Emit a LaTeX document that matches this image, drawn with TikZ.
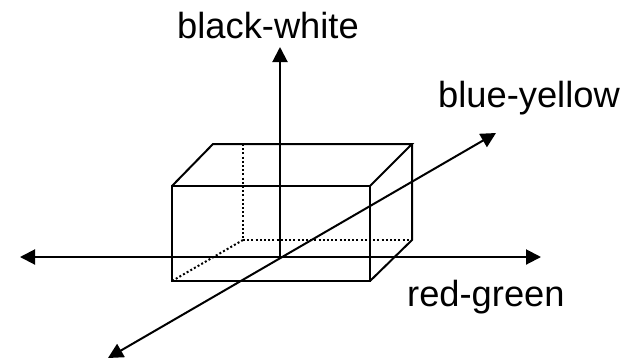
\documentclass[tikz,border=0pt]{standalone}
\usepackage{fontspec}
\setmainfont{Liberation Sans}
\usetikzlibrary{arrows.meta}
\begin{document}
\begin{tikzpicture}[x=1pt,y=-1pt,
  axis/.style={line width=2pt,{Triangle[length=15pt,width=15pt]}-{Triangle[length=15pt,width=15pt]}},
  uparrow/.style={line width=2pt,-{Triangle[length=15pt,width=15pt]}},
  edge/.style={line width=2pt,line join=miter},
  hidden/.style={line width=2pt,dash pattern=on 2pt off 2.2pt},
  lbl/.style={anchor=base west,inner sep=0pt,font=\fontsize{36.3}{40}\selectfont}]
\useasboundingbox (0,0) rectangle (642,360);
% box corners
\coordinate (ftl) at (172,186);
\coordinate (ftr) at (370,186);
\coordinate (fbr) at (370,281);
\coordinate (fbl) at (172,281);
\coordinate (btl) at (213,144);
\coordinate (btr) at (412,144);
\coordinate (bbr) at (412,240);
\coordinate (htop) at (243,144);
\coordinate (hbl) at (243,240);
% axis ends
\coordinate (o) at (280,257);
\coordinate (xl) at (20,257);
\coordinate (xr) at (541,257);
\coordinate (yt) at (280,47);
\coordinate (zl) at (108,358);
\coordinate (zr) at (496,133);
% hidden edges
\draw[hidden] (htop) -- (hbl);
\draw[hidden] (hbl) -- (bbr);
\draw[hidden] (hbl) -- (fbl);
% box visible edges
\draw[edge] (ftl) -- (ftr) -- (fbr) -- (fbl) -- cycle;
\draw[edge] (ftl) -- (btl) -- (btr) -- (ftr);
\draw[edge] (btr) -- (bbr) -- (fbr);
% axes
\draw[axis] (xl) -- (xr);
\draw[uparrow] (o) -- (yt);
\draw[axis] (zl) -- (zr);
% labels
\node[lbl] (bw) at (177,38) {black-white};
\node[lbl] (by) at (438,107) {blue-yellow};
\node[lbl] (rg) at (407,306) {red-green};
\end{tikzpicture}
\end{document}
